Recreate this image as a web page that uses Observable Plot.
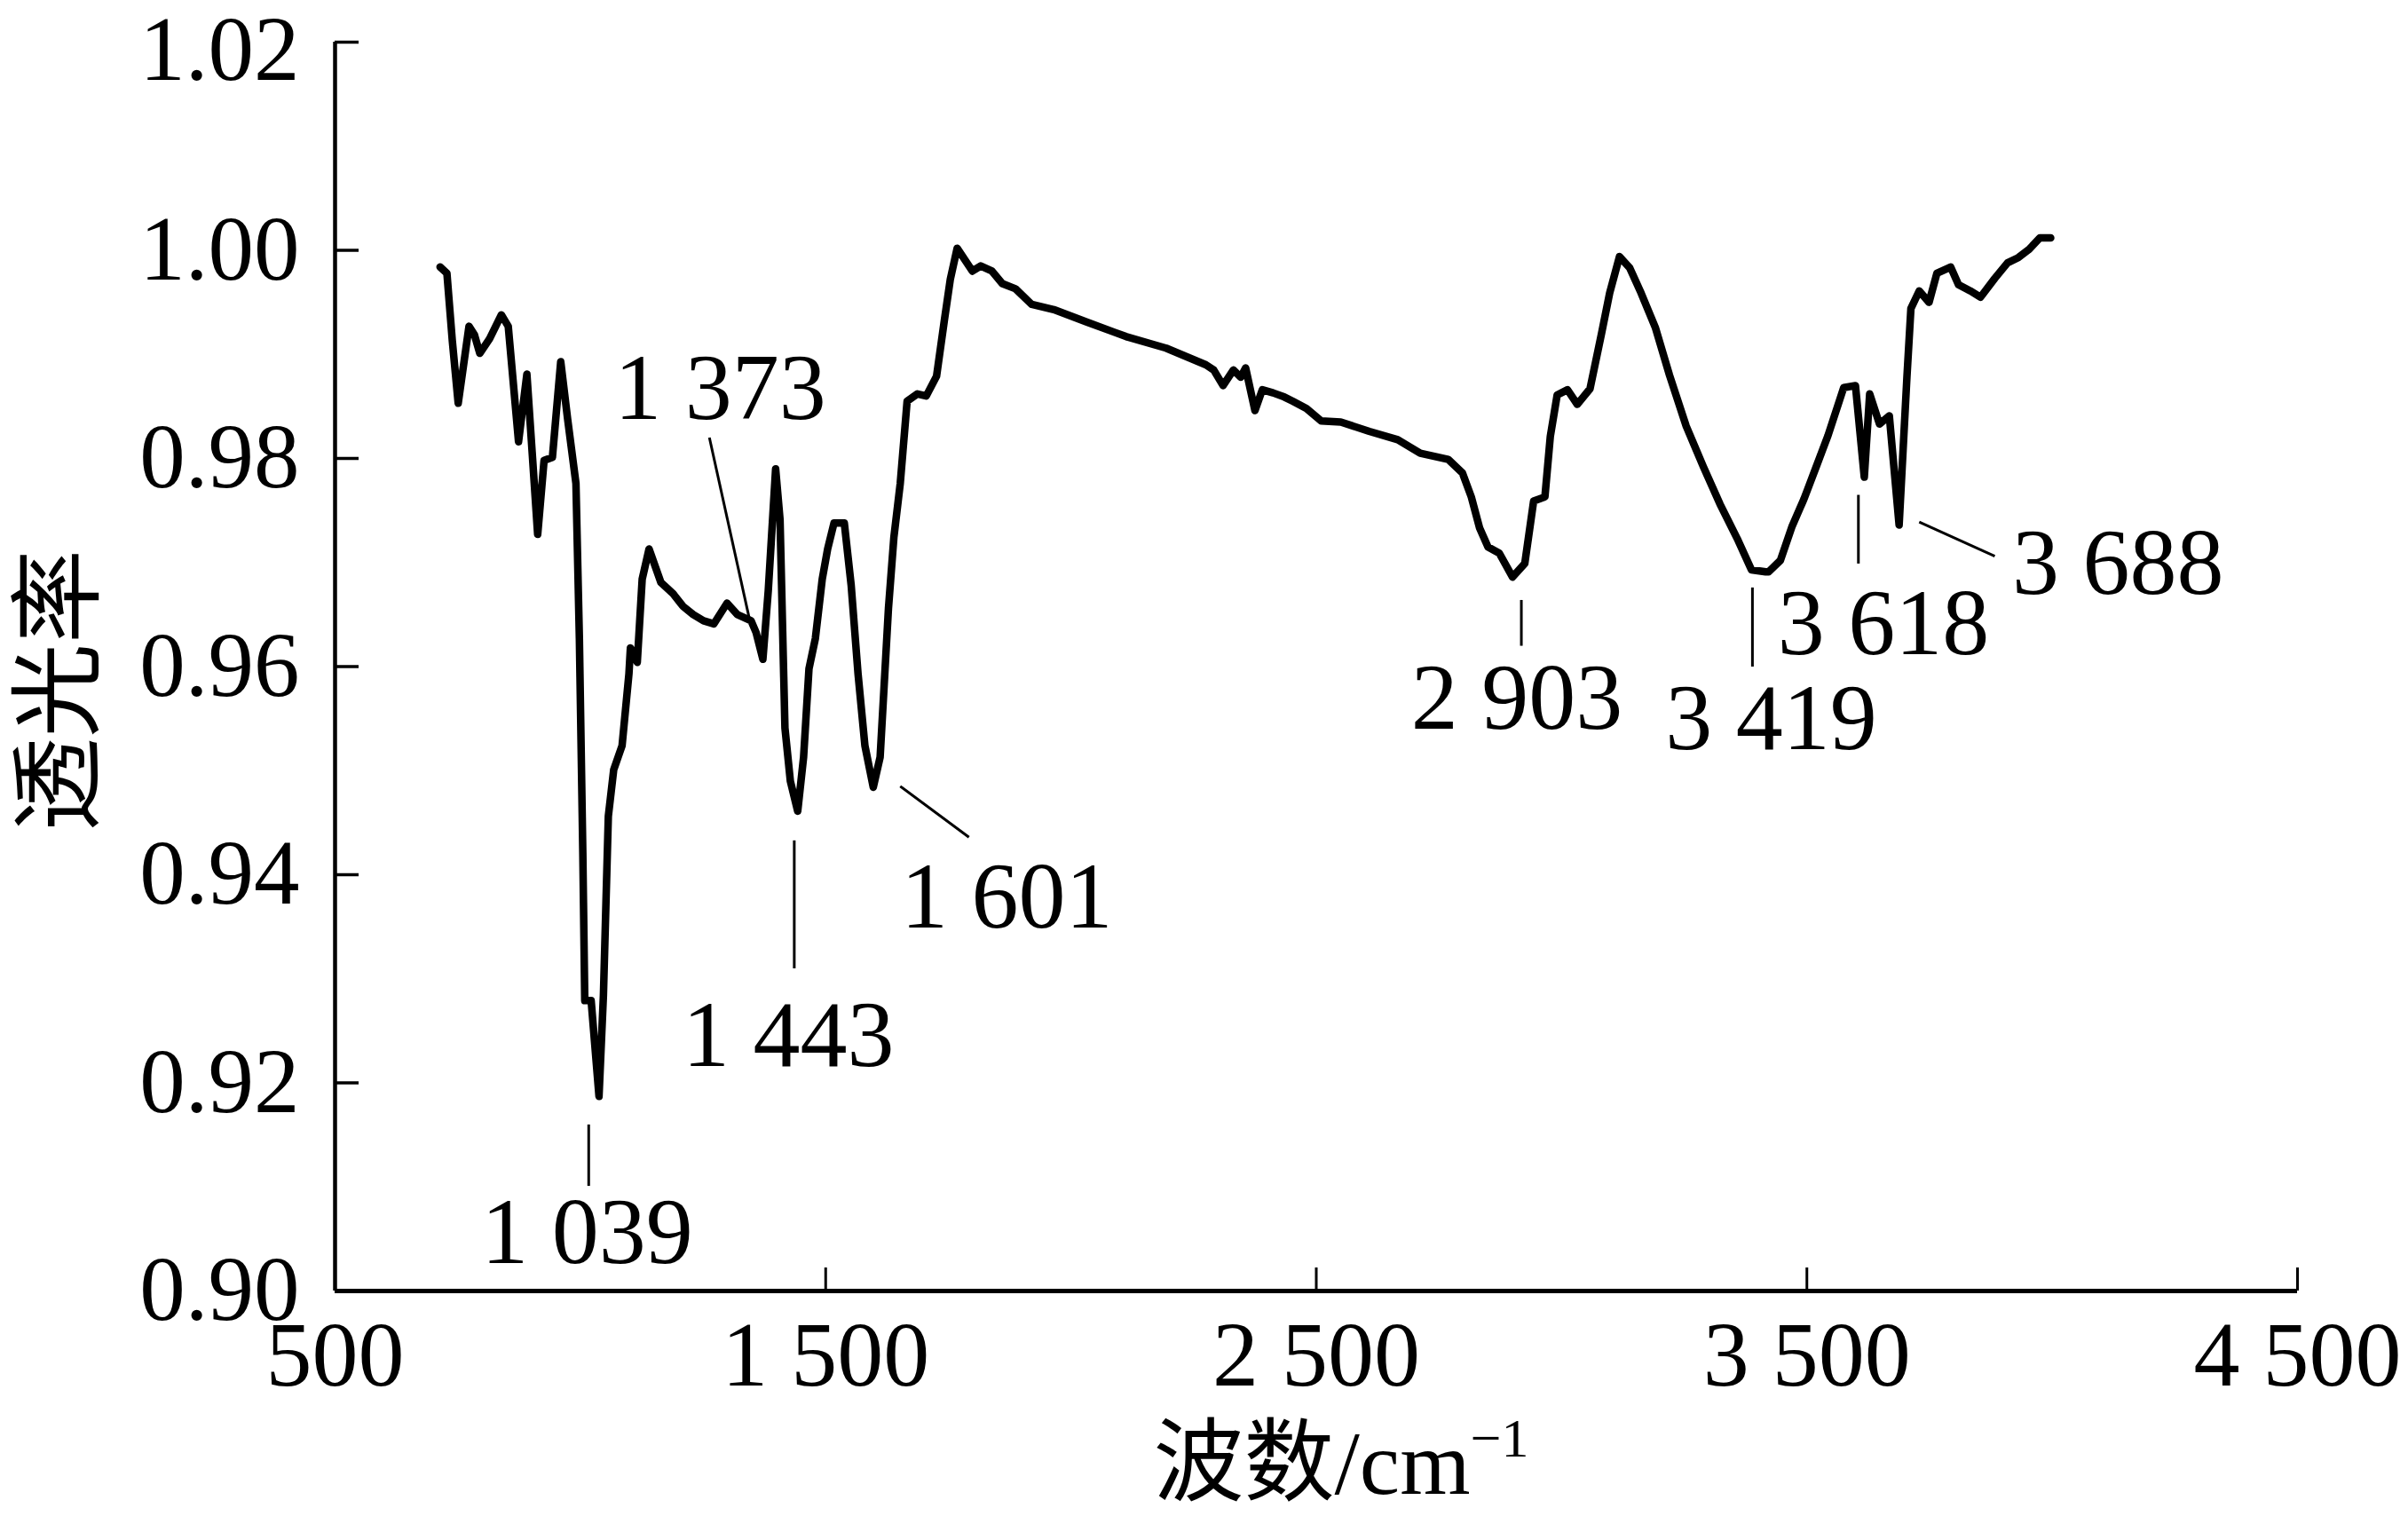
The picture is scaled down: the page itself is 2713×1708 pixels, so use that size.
<!DOCTYPE html>
<html>
<head>
<meta charset="utf-8">
<script src="https://cdn.jsdelivr.net/npm/d3@7"></script>
<script src="https://cdn.jsdelivr.net/npm/@observablehq/plot@0.6"></script>
<style>
  html, body { margin: 0; padding: 0; background: #fff; }
</style>
</head>
<body>
<div id="chart"></div>
<script>
// Wavenumber (cm^-1)
const wavenumber = [
  714, 728, 739, 751, 773, 784, 795, 815, 839, 853, 874, 891, 913, 926, 943, 960, 974, 991, 998,
  1005, 1009, 1022, 1038, 1047, 1057, 1068, 1085, 1099, 1102, 1116, 1126, 1140, 1164, 1189, 1209,
  1230, 1251, 1272, 1299, 1320, 1348, 1358, 1372, 1383, 1398, 1407, 1417, 1428, 1443, 1455, 1466,
  1479, 1493, 1504, 1517, 1538, 1552, 1566, 1580, 1597, 1611, 1628, 1639, 1652, 1666, 1687, 1705,
  1726, 1742, 1754, 1768, 1799, 1816, 1839, 1860, 1887, 1920, 1965, 2033, 2090, 2113, 2194, 2275,
  2291, 2310, 2331, 2346, 2356, 2375, 2390, 2412, 2435, 2452, 2480, 2510, 2550, 2608, 2666, 2712,
  2769, 2798, 2816, 2833, 2850, 2873, 2900, 2925, 2943, 2966, 2977, 2991, 3012, 3032, 3058, 3081,
  3098, 3118, 3139, 3162, 3191, 3220, 3254, 3289, 3323, 3358, 3387, 3416, 3422, 3446, 3470, 3494,
  3519, 3543, 3559, 3575, 3599, 3617, 3628, 3648, 3668, 3688, 3704, 3712, 3729, 3749, 3765, 3793,
  3809, 3833, 3854, 3883, 3909, 3931, 3953, 3975, 3997
];
// Transmittance
const transmittance = [
  0.9984, 0.9978, 0.9913, 0.9853, 0.9927, 0.9919, 0.9901, 0.9915, 0.9938, 0.9927, 0.9816, 0.9881, 0.9727, 0.9798, 0.9801, 0.9893, 0.9838, 0.9776, 0.9627,
  0.9421, 0.9279, 0.9279, 0.9187, 0.9284, 0.9456, 0.9501, 0.9524, 0.9593, 0.9618, 0.9604, 0.9684, 0.9713, 0.9681, 0.9670, 0.9658,
  0.9650, 0.9644, 0.9641, 0.9661, 0.9650, 0.9644, 0.9633, 0.9607, 0.9673, 0.9790, 0.9741, 0.9541, 0.9490, 0.9461, 0.9513, 0.9598,
  0.9627, 0.9684, 0.9713, 0.9738, 0.9738, 0.9678, 0.9593, 0.9524, 0.9484, 0.9513, 0.9656, 0.9724, 0.9776, 0.9855, 0.9862, 0.9860,
  0.9879, 0.9933, 0.9972, 1.0002, 0.9980, 0.9985, 0.9980, 0.9968, 0.9963, 0.9948, 0.9943, 0.9931, 0.9921, 0.9917, 0.9906, 0.9890,
  0.9885, 0.9870, 0.9885, 0.9878, 0.9887, 0.9846, 0.9866, 0.9863, 0.9859, 0.9855, 0.9848, 0.9836, 0.9835, 0.9826, 0.9818, 0.9805,
  0.9799, 0.9786, 0.9763, 0.9733, 0.9715, 0.9709, 0.9686, 0.9699, 0.9759, 0.9763, 0.9821, 0.9861, 0.9866, 0.9852, 0.9867, 0.9919,
  0.9959, 0.9994, 0.9983, 0.9959, 0.9926, 0.9880, 0.9831, 0.9792, 0.9756, 0.9723, 0.9693, 0.9691, 0.9691, 0.9702, 0.9735, 0.9761,
  0.9792, 0.9822, 0.9845, 0.9868, 0.9870, 0.9782, 0.9862, 0.9833, 0.9841, 0.9736, 0.9879, 0.9944, 0.9961, 0.9950, 0.9978, 0.9984,
  0.9967, 0.9961, 0.9955, 0.9973, 0.9988, 0.9993, 1.0001, 1.0012, 1.0012
];

const xTicks = [500, 1500, 2500, 3500, 4500];
const yTicks = [0.90, 0.92, 0.94, 0.96, 0.98, 1.00, 1.02];

// Peak annotations (data units)
const peakLabels = ["1 039", "1 373", "1 443", "1 601", "2 903", "3 419", "3 618", "3 688"];
const labelX     = [1014, 1285, 1424, 1869, 2909, 3427, 3656, 4134];
const labelY     = [0.9027, 0.9838, 0.9216, 0.9349, 0.9540, 0.9521, 0.9612, 0.9670];
const leaderX1   = [1017, 1263, 1436, 1652, 2918, 3389, 3605, 3729];
const leaderY1   = [0.9160, 0.9820, 0.9433, 0.9485, 0.9664, 0.9676, 0.9765, 0.9739];
const leaderX2   = [1017, 1344, 1436, 1792, 2918, 3389, 3605, 3883];
const leaderY2   = [0.9101, 0.9647, 0.9310, 0.9436, 0.9620, 0.9600, 0.9699, 0.9706];

const spectrum = wavenumber.map((w, i) => ({w, t: transmittance[i]}));
const notes = peakLabels.map((s, i) => ({s, x: labelX[i], y: labelY[i]}));
const leaders = peakLabels.map((s, i) => ({x1: leaderX1[i], y1: leaderY1[i], x2: leaderX2[i], y2: leaderY2[i]}));

const serif = "'Liberation Serif', 'Times New Roman', serif";
const mixed = "'Liberation Serif', 'Noto Sans CJK SC', serif";
const fmtY = d3.format(".2f");
const fmtX = d => d >= 1000 ? `${Math.floor(d / 1000)} ${String(d % 1000).padStart(3, "0")}` : String(d);
const topTick = yTicks[yTicks.length - 1];

const chart = Plot.plot({
  width: 2713,
  height: 1708,
  marginLeft: 377,
  marginRight: 125,
  marginTop: 47,
  marginBottom: 254,
  style: {fontFamily: serif, background: "#fff", color: "#000", overflow: "visible"},
  x: {domain: [500, 4500]},
  y: {domain: [0.90, 1.02]},
  marks: [
    Plot.ruleX([500], {stroke: "#000", strokeWidth: 4.5}),
    Plot.ruleY([0.90], {stroke: "#000", strokeWidth: 5}),
    Plot.axisY({ticks: yTicks, tickFormat: d => d === topTick ? "" : fmtY(d), tickSize: -27, tickPadding: 67,
                strokeWidth: 3.5, fontSize: 103, label: null}),
    Plot.axisY({ticks: [topTick], tickFormat: fmtY, tickSize: 0, tickPadding: 40, dy: 10,
                fontSize: 103, label: null}),
    Plot.axisX({ticks: xTicks, tickFormat: fmtX, tickSize: -26, tickPadding: 59,
                strokeWidth: 3, fontSize: 104, label: null}),
    Plot.line(spectrum, {x: "w", y: "t", stroke: "#000", strokeWidth: 8.5,
                         strokeLinejoin: "round", strokeLinecap: "round"}),
    Plot.link(leaders, {x1: "x1", y1: "y1", x2: "x2", y2: "y2", stroke: "#000", strokeWidth: 3}),
    Plot.text(notes, {x: "x", y: "y", text: "s", textAnchor: "middle", lineAnchor: "bottom",
                      fontSize: 106, fill: "#000", fontFamily: serif})
  ]
});

const svg = d3.select(chart);
// Y axis title
svg.append("text")
  .attr("transform", "translate(64,778) rotate(-90)")
  .attr("text-anchor", "middle")
  .attr("dy", "0.36em")
  .attr("font-family", mixed)
  .attr("font-size", 106)
  .attr("fill", "#000")
  .text("透光率");
// X axis title
const xt = svg.append("text")
  .attr("x", 1511)
  .attr("y", 1683)
  .attr("text-anchor", "middle")
  .attr("font-family", mixed)
  .attr("font-size", 102)
  .attr("fill", "#000");
xt.append("tspan").text("波数");
xt.append("tspan").text("/cm");
xt.append("tspan").attr("font-size", 62).attr("dy", -42).text("−1");

document.getElementById("chart").appendChild(chart);
</script>
</body>
</html>
